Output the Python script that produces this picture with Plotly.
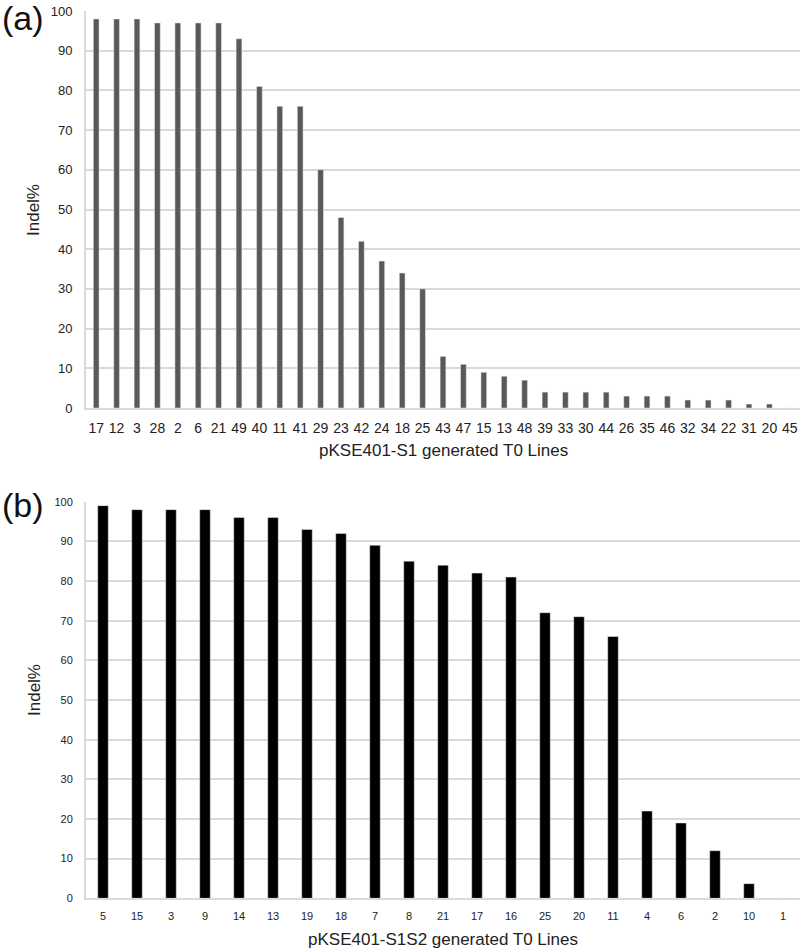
import plotly.graph_objects as go

# Panel (a) data
lines_a = ["17", "12", "3", "28", "2", "6", "21", "49", "40", "11", "41", "29", "23", "42",
           "24", "18", "25", "43", "47", "15", "13", "48", "39", "33", "30", "44", "26", "35",
           "46", "32", "34", "22", "31", "20", "45"]
indel_a = [98, 98, 98, 97, 97, 97, 97, 93, 81, 76, 76, 60, 48, 42,
           37, 34, 30, 13, 11, 9, 8, 7, 4, 4, 4, 4, 3, 3,
           3, 2, 2, 2, 1, 1, 0]

# Panel (b) data
lines_b = ["5", "15", "3", "9", "14", "13", "19", "18", "7", "8", "21", "17", "16", "25",
           "20", "11", "4", "6", "2", "10", "1"]
indel_b = [99, 98, 98, 98, 96, 96, 93, 92, 89, 85, 84, 82, 81, 72,
           71, 66, 22, 19, 12, 3.7, 0]

W, H = 800, 951
FONT = "Liberation Sans, Arial, Helvetica, sans-serif"
GRID = "#d9d9d9"

fig = go.Figure()
fig.add_trace(go.Bar(x=lines_a, y=indel_a, marker_color="#595959", width=0.28,
                     xaxis="x", yaxis="y", showlegend=False))
fig.add_trace(go.Bar(x=lines_b, y=indel_b, marker_color="#000000", width=0.31,
                     xaxis="x2", yaxis="y2", showlegend=False))

def ypx(p):
    return 1 - p / H

def xpx(p):
    return (p - 86) / (W - 86)

common_y = dict(range=[0, 100], dtick=10, showgrid=True, gridcolor=GRID, gridwidth=2,
                showline=True, linecolor=GRID, linewidth=2, zeroline=False,
                ticks="", ticklabelstandoff=9, automargin=False, fixedrange=True)
common_x = dict(type="category", showgrid=False, showline=True, linecolor=GRID, linewidth=2,
                ticks="", automargin=False, fixedrange=True)

fig.update_layout(
    width=W, height=H,
    margin=dict(l=86, r=0, t=0, b=0),
    paper_bgcolor="white", plot_bgcolor="white",
    font=dict(family=FONT, color="#222222"),
    xaxis=dict(domain=[0, 1], anchor="y", tickfont=dict(family=FONT, size=14, color="#222"),
               ticklabelstandoff=6, **common_x),
    yaxis=dict(domain=[ypx(408), ypx(11)], anchor="x",
               tickfont=dict(family=FONT, size=13, color="#222"), **common_y),
    xaxis2=dict(domain=[0, 1], anchor="y2", tickfont=dict(family=FONT, size=11, color="#222"),
                ticklabelstandoff=6, **common_x),
    yaxis2=dict(domain=[ypx(898.3), ypx(501.7)], anchor="x2",
                tickfont=dict(family=FONT, size=11, color="#222"), **common_y),
    annotations=[
        dict(text="(a)", x=xpx(0), y=ypx(18), xref="paper", yref="paper", xanchor="left",
             yanchor="middle", showarrow=False, font=dict(size=34, color="#111", family=FONT)),
        dict(text="(b)", x=xpx(0), y=ypx(505), xref="paper", yref="paper", xanchor="left",
             yanchor="middle", showarrow=False, font=dict(size=34, color="#111", family=FONT)),
        dict(text="Indel%", x=xpx(34), y=ypx(210), xref="paper", yref="paper", xanchor="center",
             yanchor="middle", textangle=-90, showarrow=False, font=dict(size=17, color="#222")),
        dict(text="Indel%", x=xpx(34), y=ypx(690), xref="paper", yref="paper", xanchor="center",
             yanchor="middle", textangle=-90, showarrow=False, font=dict(size=17, color="#222")),
        dict(text="pKSE401-S1 generated T0 Lines", x=0.5, y=ypx(451), xref="paper", yref="paper",
             xanchor="center", yanchor="middle", showarrow=False, font=dict(size=17, color="#222")),
        dict(text="pKSE401-S1S2 generated T0 Lines", x=0.5, y=ypx(939), xref="paper", yref="paper",
             xanchor="center", yanchor="middle", showarrow=False, font=dict(size=17, color="#222")),
    ],
)

fig.write_html("out.html",
               config={"displayModeBar": False, "staticPlot": True},
               post_script="document.body.style.margin='0';document.body.style.padding='0';"
                           "document.body.style.overflow='hidden';")
